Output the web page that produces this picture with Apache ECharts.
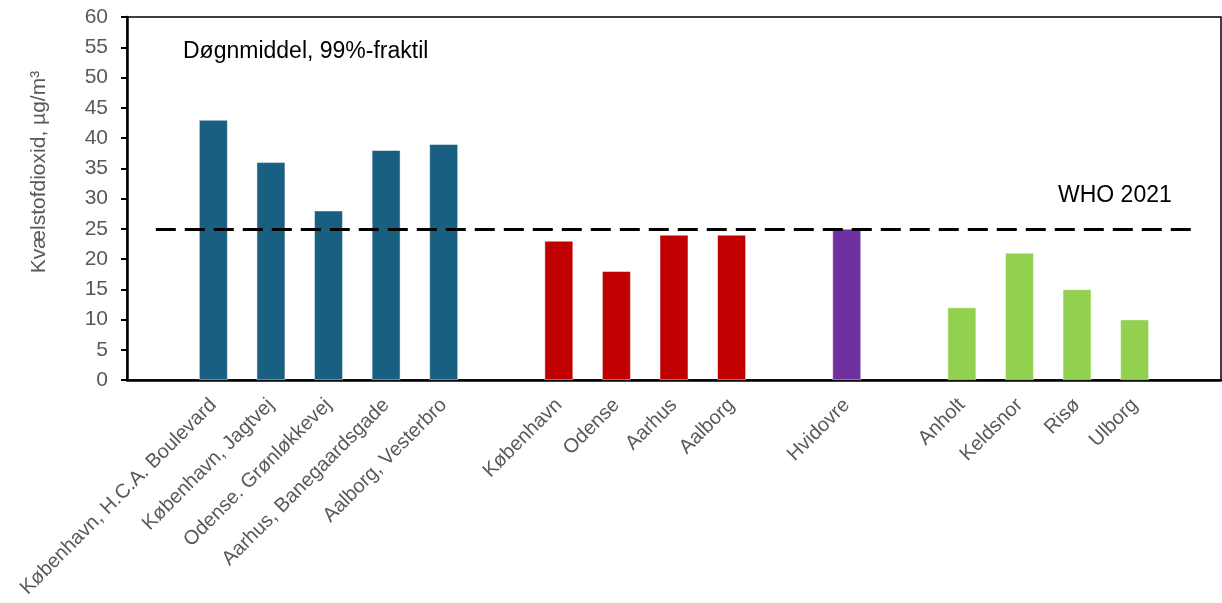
<!DOCTYPE html>
<html><head><meta charset="utf-8">
<script src="https://cdn.jsdelivr.net/npm/echarts@6/dist/echarts.min.js"></script>
<style>html,body{margin:0;padding:0;background:#fff}#c{width:1222px;height:603px}</style>
</head><body><div id="c"></div>
<script>
const categories = ['', 'København, H.C.A. Boulevard', 'København, Jagtvej', 'Odense. Grønløkkevej', 'Aarhus, Banegaardsgade', 'Aalborg, Vesterbro', '', 'København', 'Odense', 'Aarhus', 'Aalborg', '', 'Hvidovre', '', 'Anholt', 'Keldsnor', 'Risø', 'Ulborg', ''];
const values = ['-', 43, 36, 28, 38, 39, '-', 23, 18, 24, 24, '-', 25, '-', 12, 21, 15, 10, '-'];
const groupOf = [null, 0, 0, 0, 0, 0, null, 1, 1, 1, 1, null, 2, null, 3, 3, 3, 3, null];
const groupColors = ['#185F82', '#C00000', '#7030A0', '#92D050'];
const yTicks = { min: 0, max: 60, interval: 5 };
const whoLimit = 25;
const whoLabel = 'WHO 2021';
const titleText = 'Døgnmiddel, 99%-fraktil';
const yName = 'Kvælstofdioxid, µg/m³';

const FONT = 'Liberation Sans, Arial, sans-serif';
const chart = echarts.init(document.getElementById('c'), null, { renderer: 'canvas' });
chart.setOption({
  animation: false,
  grid: { left: 127, top: 17, right: 1, bottom: 223, show: true, borderColor: '#000', borderWidth: 1.5 },
  xAxis: {
    type: 'category', data: categories,
    axisLine: { lineStyle: { color: '#000', width: 2.5 } },
    axisTick: { show: false },
    axisLabel: { interval: 0, rotate: 45, color: '#595959', fontSize: 20, fontFamily: FONT, margin: 22 }
  },
  yAxis: {
    type: 'value', min: yTicks.min, max: yTicks.max, interval: yTicks.interval,
    axisLine: { show: true, lineStyle: { color: '#000', width: 2.5 } },
    axisTick: { show: true, length: 6, lineStyle: { color: '#000', width: 2 } },
    splitLine: { show: false },
    axisLabel: { color: '#595959', fontSize: 21, fontFamily: FONT, margin: 19 }
  },
  series: [{
    type: 'bar', barWidth: '50%',
    data: values.map((v, i) => ({
      value: v,
      itemStyle: { color: groupOf[i] === null ? '#fff' : groupColors[groupOf[i]], borderColor: 'rgba(255,255,255,0.6)', borderWidth: 0.8 }
    })),
    markLine: {
      silent: true, symbol: ['none', 'none'], label: { show: false },
      lineStyle: { color: '#000', type: [20, 9], width: 3 },
      data: [[{ coord: [0, whoLimit] }, { coord: [18, whoLimit] }]]
    }
  }],
  graphic: [
    { type: 'text', left: 183, top: 40, style: { text: titleText, fill: '#000', font: '23px ' + FONT } },
    { type: 'text', left: 1058, top: 184, style: { text: whoLabel, fill: '#000', font: '23px ' + FONT } },
    { type: 'text', x: 39, y: 172, rotation: Math.PI / 2,
      style: { text: yName, fill: '#595959', font: '21px ' + FONT, align: 'center', verticalAlign: 'middle' } }
  ]
});
</script></body></html>
